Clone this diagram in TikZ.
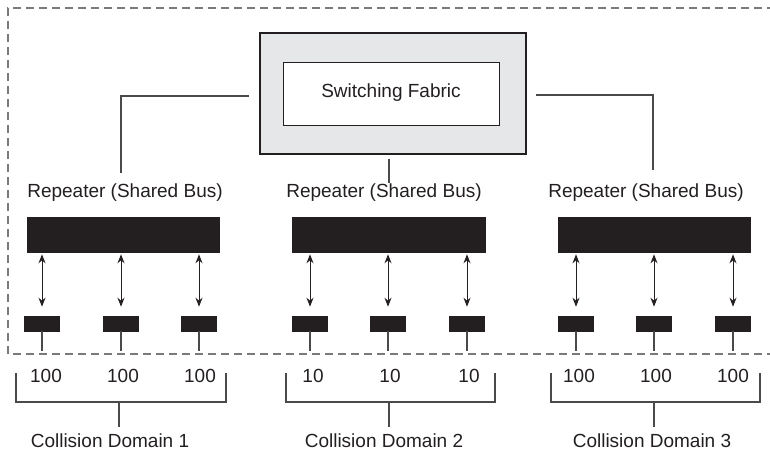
\documentclass[tikz,border=0pt]{standalone}
\usepackage{fontspec}
\setmainfont{Liberation Sans}
\usetikzlibrary{arrows.meta}
\definecolor{ink}{HTML}{231F20}
\definecolor{wire}{HTML}{4A4A4A}
\definecolor{shade}{HTML}{E6E7E8}
\definecolor{dashc}{HTML}{7A7A7A}
\tikzset{
  lbl/.style={font=\fontsize{19}{21}\selectfont, text=ink, inner sep=0pt, anchor=center},
  bar/.style={fill=ink, draw=ink, line width=0.6pt, minimum width=192pt, minimum height=35pt, inner sep=0pt},
  port/.style={fill=ink, draw=ink, line width=0.6pt, minimum width=35pt, minimum height=15pt, inner sep=0pt},
  wireln/.style={draw=wire, line width=1.1pt},
  biarrow/.style={draw=ink, line width=1pt, {Stealth[length=9pt,width=7pt]}-{Stealth[length=9pt,width=7pt]}},
  brk/.style={draw=wire, line width=1.1pt},
  dashbox/.style={draw=dashc, line width=1.1pt, dash pattern=on 8pt off 5pt}
}
\begin{document}
\begin{tikzpicture}[x=1pt,y=-1pt]
\useasboundingbox (0,0) rectangle (770,452);
% dashed enclosure (open at the right)
\coordinate (dtr) at (775,8);
\coordinate (dtl) at (8,8);
\coordinate (dbl) at (8,354);
\coordinate (dbr) at (775,354);
\draw[dashbox] (dtr) -- (dtl) -- (dbl) -- (dbr);

% switch
\node[draw=ink, line width=1.3pt, fill=shade, minimum width=266pt, minimum height=121pt, inner sep=0pt] (sw) at (393,93.5) {};
\node[draw=ink, line width=1pt, fill=white, minimum width=216pt, minimum height=63pt, inner sep=0pt] (fab) at (391,93.5) {};
\node[lbl] (fabt) at (391,93) {Switching Fabric};

% repeater labels
\node[lbl] (r1) at (125,193) {Repeater (Shared Bus)};
\node[lbl] (r2) at (384,193) {Repeater (Shared Bus)};
\node[lbl] (r3) at (646,193) {Repeater (Shared Bus)};

% uplinks
\coordinate (l1a) at (249,96);
\coordinate (l1b) at (121,96);
\coordinate (l1c) at (121,173);
\draw[wireln] (l1a) -- (l1b) -- (l1c);
\coordinate (l2a) at (389,159);
\coordinate (l2b) at (389,183);
\draw[wireln] (l2a) -- (l2b);
\coordinate (l3a) at (536,95);
\coordinate (l3b) at (653,95);
\coordinate (l3c) at (653,170);
\draw[wireln] (l3a) -- (l3b) -- (l3c);

% bars
\node[bar] (b1) at (123,234.5) {};
\node[bar, minimum width=193pt] (b2) at (388.5,234.5) {};
\node[bar] (b3) at (654,234.5) {};

% ports, arrows, drops
\foreach \g/\b/\xa/\xb/\xc in {1/b1/42/121/199, 2/b2/310/388/467, 3/b3/576/654/733}{
  \foreach \k/\x in {1/\xa, 2/\xb, 3/\xc}{
    \node[port] (p\g\k) at (\x,323.5) {};
    \coordinate (d\g\k) at (\x,351);
    \coordinate (t\g\k) at ([yshift=-2pt]p\g\k.north |- \b.south);
    \coordinate (u\g\k) at ([yshift=9pt]p\g\k.north);
    \draw[biarrow] (t\g\k) -- (u\g\k);
    \draw[wireln] (p\g\k.south) -- (d\g\k);
  }
}

% speeds
\node[lbl] (n11) at (46,376) {100};
\node[lbl] (n12) at (123,376) {100};
\node[lbl] (n13) at (200,376) {100};
\node[lbl] (n21) at (313,376) {10};
\node[lbl] (n22) at (390,376) {10};
\node[lbl] (n23) at (469,376) {10};
\node[lbl] (n31) at (579,376) {100};
\node[lbl] (n32) at (656,376) {100};
\node[lbl] (n33) at (733,376) {100};

% brackets
\foreach \g/\xl/\xr/\xs in {1/16/226/119, 2/286/495/389, 3/551/760/654}{
  \coordinate (bl\g) at (\xl,373);
  \coordinate (br\g) at (\xr,373);
  \coordinate (bs\g) at (\xs,402);
  \coordinate (be\g) at (\xs,427);
  \draw[brk] (bl\g) -- (bl\g |- bs\g) -- (br\g |- bs\g) -- (br\g);
  \draw[brk] (bs\g) -- (be\g);
}

% domain labels
\node[lbl] (c1) at (110,441) {Collision Domain 1};
\node[lbl] (c2) at (384,441) {Collision Domain 2};
\node[lbl] (c3) at (652,441) {Collision Domain 3};
\end{tikzpicture}
\end{document}
